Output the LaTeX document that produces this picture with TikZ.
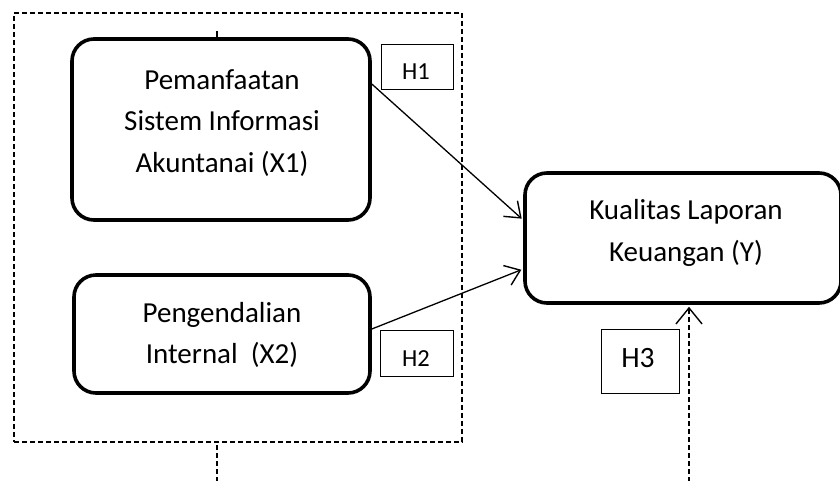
\documentclass[tikz,border=0pt]{standalone}
\usepackage{fontspec}
\setmainfont{Carlito}
\usetikzlibrary{arrows.meta,calc}
\begin{document}
\begin{tikzpicture}[x=1pt,y=-1pt,
  varbox/.style={draw,line width=3.6pt,rounded corners=22pt,inner sep=0pt},
  hbox/.style={draw,line width=0.9pt,inner sep=0pt},
  maintext/.style={align=center,font=\fontsize{29}{41.7}\selectfont,inner sep=0pt},
  htext/.style={inner sep=0pt,anchor=base},
  grp/.style={draw,dashed,dash pattern=on 5pt off 3pt,line width=1.1pt,inner sep=0pt},
  link/.style={line width=1.3pt,-{Straight Barb[length=14pt,width=21pt,line width=1.4pt]}},
  dlink/.style={line width=1.2pt,dash pattern=on 5pt off 3pt}
]
\useasboundingbox (0,0) rectangle (840,480);
% group box
\node[grp,minimum width=448pt,minimum height=429pt] (grp) at (238,227.5) {};
% variable boxes
\node[varbox,minimum width=298pt,minimum height=181pt] (x1) at (221,129.5) {};
\node[varbox,minimum width=296pt,minimum height=118pt] (x2) at (222,334) {};
\node[varbox,minimum width=316pt,minimum height=130pt] (y) at (683,238) {};
% texts
\node[maintext] (x1t) at (222,123) {Pemanfaatan\\Sistem Informasi\\Akuntanai (X1)};
\node[maintext] (x2t) at (222,335) {Pengendalian\\Internal\ \ (X2)};
\node[maintext] (yt) at (686,233) {Kualitas Laporan\\Keuangan (Y)};
% hypothesis boxes
\node[hbox,minimum width=72pt,minimum height=45pt] (h1) at (417,66.5) {};
\node[hbox,minimum width=73pt,minimum height=46pt] (h2) at (416.5,353) {};
\node[hbox,minimum width=78pt,minimum height=64pt] (h3) at (640,361) {};
\node[htext,font=\fontsize{24.5}{28}\selectfont] (h1t) at (416,79) {H1};
\node[htext,font=\fontsize{24.5}{28}\selectfont] (h2t) at (416,366) {H2};
\node[htext,font=\fontsize{29.5}{34}\selectfont] (h3t) at (638,367) {H3};
% connectors
\draw[link,shorten >=2pt] ([yshift=45.5pt]x1.east) -- ([yshift=18pt]y.west);
\draw[link,shorten >=2pt] ([yshift=5pt]x2.east) -- ([yshift=-31pt]y.west);
\coordinate (tick) at (217,31);
\draw[line width=1.2pt] (tick) -- (tick |- x1.north);
\coordinate (gb) at (217,482);
\draw[dlink] (gb) -- (gb |- grp.south);
\coordinate (yb) at (689,482);
\draw[dlink,-{Straight Barb[length=16pt,width=26pt,line width=1.4pt]},shorten >=2pt] (yb) -- (yb |- y.south);
\end{tikzpicture}
\end{document}
